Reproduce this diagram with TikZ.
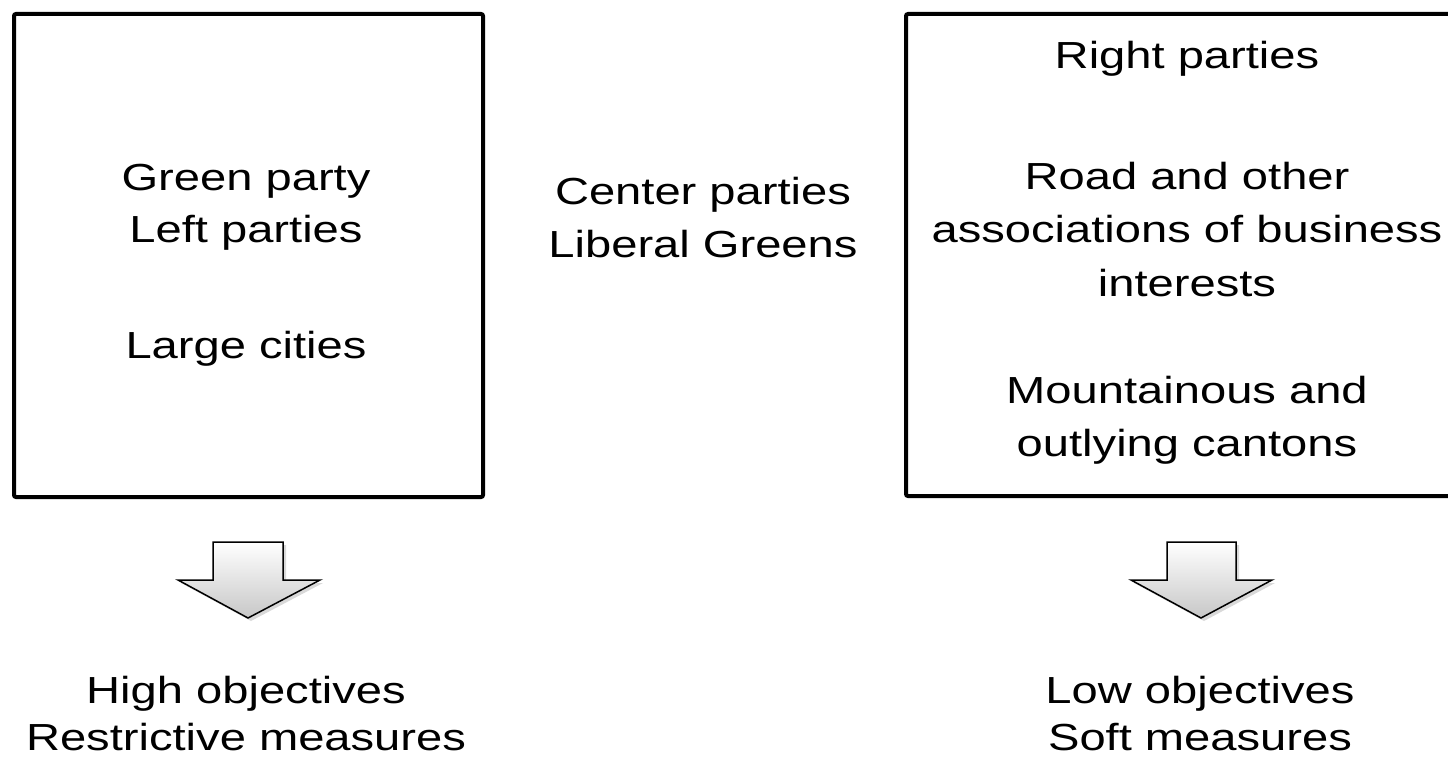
\documentclass[tikz,border=0pt]{standalone}
\usepackage{fontspec}
\setmainfont{Liberation Sans}[FakeStretch=1.25]
\usetikzlibrary{shadows}

\tikzset{
	lbl/.style={anchor=base, inner sep=0pt, font=\fontsize{37.7}{54}\selectfont},
	blockarrow/.style={draw=black, line width=1.5pt, line join=miter,
		top color=white, bottom color=black!22,
		drop shadow={opacity=0.3, shadow xshift=3pt, shadow yshift=-3pt}},
}

\begin{document}
\begin{tikzpicture}[x=1pt, y=-1pt]
	\useasboundingbox (0,0) rectangle (1448,757);
	% Kasten links
	\draw[line width=4pt, rounded corners=2pt] (14,14) rectangle (483,497);
	\node[lbl] (green) at (246,190) {Green party};
	\node[lbl] (left) at (246,242) {Left parties};
	\node[lbl] (cities) at (246,358) {Large cities};

	% Mitte
	\node[lbl] (center) at (703,204) {Center parties};
	\node[lbl] (libgreen) at (703,257) {Liberal Greens};

	% Kasten rechts
	\draw[line width=4pt, rounded corners=2pt] (906,14) rectangle (1470,496);
	\node[lbl] (right) at (1187,69) {Right parties};
	\node[lbl] (road) at (1187,189) {Road and other};
	\node[lbl] (assoc) at (1187,242) {associations of business};
	\node[lbl] (interests) at (1187,296) {interests};
	\node[lbl] (mount) at (1187,403) {Mountainous and};
	\node[lbl] (outly) at (1187,456) {outlying cantons};

	% Pfeile
	\filldraw[blockarrow] (213,542) -- (283,542) -- (283,580) -- (320,580)
		-- (248,618) -- (178,580) -- (213,580) -- cycle;
	\filldraw[blockarrow] (1167,542) -- (1236,542) -- (1236,580) -- (1272,580)
		-- (1201,618) -- (1131,580) -- (1167,580) -- cycle;

	% Ergebnisse
	\node[lbl] (high) at (246,703) {High objectives};
	\node[lbl] (restr) at (246,750) {Restrictive measures};
	\node[lbl] (low) at (1200,703) {Low objectives};
	\node[lbl] (soft) at (1200,750) {Soft measures};
\end{tikzpicture}
\end{document}
